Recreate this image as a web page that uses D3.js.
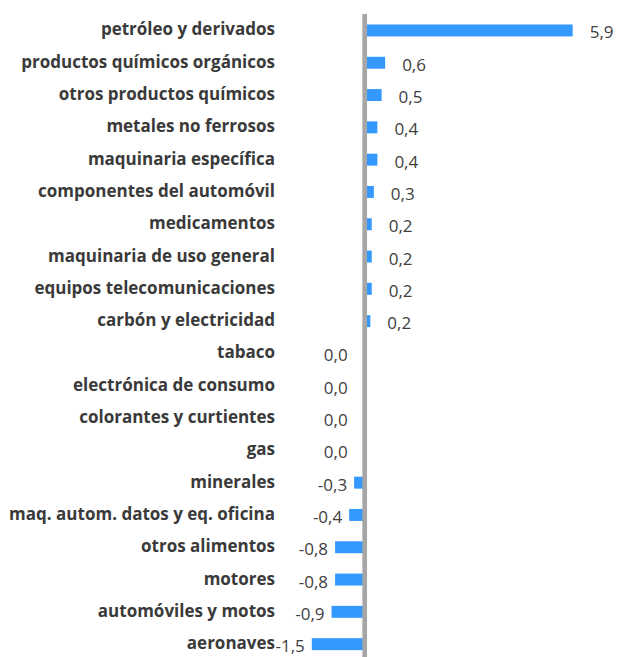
<!DOCTYPE html>
<html>
<head>
<meta charset="utf-8">
<script src="https://cdn.jsdelivr.net/npm/d3@7"></script>
<style>
  body { margin: 0; background: #fff; }
  text { font-family: "Open Sans", Lato, sans-serif; }
</style>
</head>
<body>
<div id="chart"></div>
<script>
var categories = [
  "petróleo y derivados",
  "productos químicos orgánicos",
  "otros productos químicos",
  "metales no ferrosos",
  "maquinaria específica",
  "componentes del automóvil",
  "medicamentos",
  "maquinaria de uso general",
  "equipos telecomunicaciones",
  "carbón y electricidad",
  "tabaco",
  "electrónica de consumo",
  "colorantes y curtientes",
  "gas",
  "minerales",
  "maq. autom. datos y eq. oficina",
  "otros alimentos",
  "motores",
  "automóviles y motos",
  "aeronaves"
]

var values = [5.9, 0.58, 0.48, 0.36, 0.36, 0.26, 0.2, 0.2, 0.2, 0.16,
  -0.01, -0.01, -0.01, -0.01, -0.3, -0.44, -0.84, -0.84, -0.94, -1.5]

var data = categories.map(function (c, i) { return { name: c, value: values[i] } })

var width = 617,
  height = 657

var svg = d3.select("#chart")
  .append("svg")
  .attr("width", width)
  .attr("height", height)

var x = d3.scaleLinear().domain([0, 5.9]).range([364.7, 572.7])

var y = d3.scaleBand()
  .domain(categories)
  .range([14.3, 660.3])
  .paddingInner(0.63)
  .paddingOuter(0.315)

function fmt(v) {
  var r = Math.round(v * 10) / 10
  if (r === 0) r = 0
  return r.toFixed(1).replace(".", ",")
}

svg.selectAll(".bar")
  .data(data)
  .enter()
  .append("rect")
  .attr("class", "bar")
  .attr("x", function (d) { return x(Math.min(0, d.value)) })
  .attr("width", function (d) { return Math.abs(x(d.value) - x(0)) })
  .attr("y", function (d) { return y(d.name) })
  .attr("height", y.bandwidth())
  .attr("fill", "#3399ff")

// zero line
svg.append("line")
  .attr("x1", x(0))
  .attr("x2", x(0))
  .attr("y1", 14)
  .attr("y2", height)
  .attr("stroke", "#a6a6a6")
  .attr("stroke-width", 4.7)

svg.selectAll(".cat")
  .data(data)
  .enter()
  .append("text")
  .attr("class", "cat")
  .attr("x", 275)
  .attr("y", function (d) { return y(d.name) + y.bandwidth() / 2 + 5 })
  .attr("text-anchor", "end")
  .attr("font-size", 17)
  .attr("font-weight", "bold")
  .attr("fill", "#3a3a3a")
  .text(function (d) { return d.name })

svg.selectAll(".val")
  .data(data)
  .enter()
  .append("text")
  .attr("class", "val")
  .attr("x", function (d) {
    if (d.value > 0) return x(d.value) + 17
    if (fmt(d.value) === "0,0") return x(0) - 17
    return x(d.value) - 7
  })
  .attr("y", function (d) { return y(d.name) + y.bandwidth() / 2 + 8 })
  .attr("text-anchor", function (d) { return d.value > 0 ? "start" : "end" })
  .attr("font-size", 17)
  .attr("fill", "#404040")
  .text(function (d) { return fmt(d.value) })
</script>
</body>
</html>
